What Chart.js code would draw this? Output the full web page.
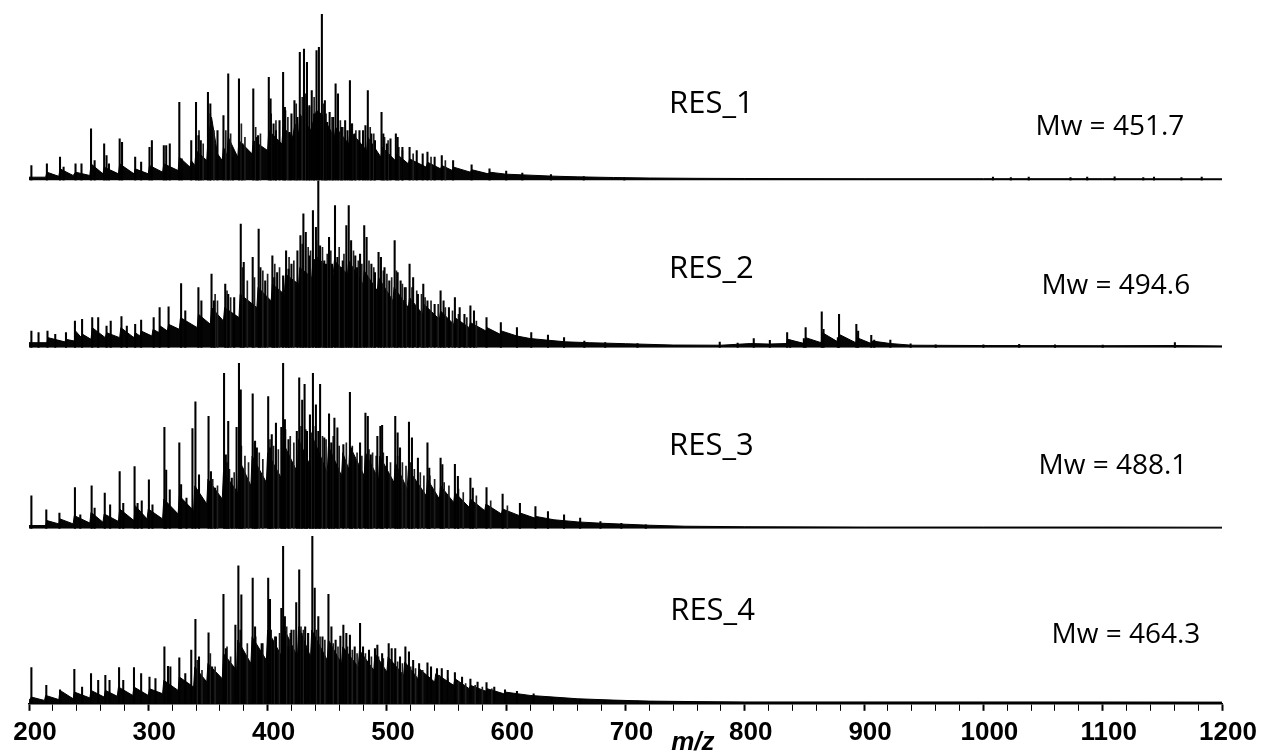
<!DOCTYPE html>
<html><head><meta charset="utf-8">
<script src="https://cdn.jsdelivr.net/npm/chart.js@4.4.0/dist/chart.umd.min.js"></script>
<style>html,body{margin:0;padding:0;background:#fff;}#wrap{width:1265px;height:751px;position:relative;}</style>
</head><body><div id="wrap"><canvas id="c"></canvas></div>
<script>
// ---------- axis ticks ----------
const xMajorTicks = [200,300,400,500,600,700,800,900,1000,1100,1200];
const xAllTicks = [200,220,240,260,280,300,320,340,360,380,400,420,440,460,480,500,520,540,560,580,600,620,640,660,680,700,720,740,760,780,800,820,840,860,880,900,920,940,960,980,1000,1020,1040,1060,1080,1100,1120,1140,1160,1180,1200];
const sampleNames = ['RES_1','RES_2','RES_3','RES_4'];
const mwTexts = ['Mw = 451.7','Mw = 494.6','Mw = 488.1','Mw = 464.3'];

// ---------- RES_1 ----------
const res1PeakMz = [202,215,226,229,239,244,252,255,263,265,
267,276,278,289,294,301,303,313,315,318,
326,328,336,340,342,344,350,352,363,367,
371,376,379,388,391,392,401,402.5,405,413,
414.5,418.5,422.5,427,430.5,433,437,441,443,445.5,
448,452,457,459,465,469,470.5,477,482,484,
487,495.5,497,507.5,509,519,534,546,555.5,571,
586,600,613.5,637.5,665,699,1008,1023,1038,1073,
1087,1110,1134,1143,1166,1183,
407,410,420,425,435,439,450,455,462,467,
473,480,490,500,503,513,525,530,540,358];
const res1PeakInt = [9,10,14,8,10,10,31,12,22,15,
10,25,23,14,11,20,24,21,21,22,
47,13,24,47,27,24,53,46,39,64,
14,61,22,55,26,27,62,49,34,65,
44,29,48,77,79,71,54,78,80,100,
48,41,58,52,36,60,34,30,33,54,
28,41,28,28,26,20,17,15,12,9.4,
7,5.6,4.4,3.6,2.4,1.6,2,1.8,2,1.8,
2,2.2,1.8,2,1.8,2,
30,36,40,38,45,40,35,38,32,30,
28,30,24,22,25,20,18,16,14,30];
const res1MinorMz = [342.5,346,352,355,365,369,378,381,390,394,
403,407,415,417,424,429,432,435,439,447,
449,454,461,463,471,474,486,489,498,501,
510,513,522,537,549];
const res1MinorInt = [30,22,40,30,30,28,34,26,32,28,
40,36,42,38,46,50,52,44,50,46,
40,38,36,32,34,30,32,28,26,24,
20,18,16,14,12];
const res1EnvMz = [200,214,215,225,226,237,239,251,252,262,
263,275,276,288,289,300,301,312,313,325,
326,335,336,339,340,349,350,353,358,362,
363,366,367,375,376,387,388,400,401,412,
413,421,423,426,427,436,441,445,456,457,
468,469,483,484,495,496,507,508,518,519,
533,534,545,546,555,556,570,571,585,586,
600,620,640,660,690,720,760,800,900,1000,
1100,1200];
const res1EnvInt = [2,2,5,2.5,7,3,5,3,10,4,
8,4,10,4,7,4,9,5,10,6,
14,8,12,9,18,12,24,38,16,12,
20,15,26,14,24,16,24,18,30,22,
32,26,34,28,40,30,42,40,26,32,
22,30,18,26,14,20,12,16,10,13,
8,11,7,9,6,8,5,6.5,4,5,
3.8,3.2,2.6,2.2,1.8,1.5,1.3,1.2,1.1,1.1,
1.1,1];

// ---------- RES_2 ----------
const res2PeakMz = [202,208,215.5,222,231,238.5,244.5,253,258,265,
268.5,277.5,282,289,294,304.5,309.5,317,327.5,331,
342,344.5,353,355,364.5,367,377.5,380,387.5,392.5,
394,404,405.5,413,415.5,417.5,425,427.5,430,432,
438,440.5,442.5,444,447.5,451.5,454,456.5,458.5,461.5,
466,468,470,473.5,477.5,481,483,487,493,495,
498,506.5,509,511.5,519,522,530.5,534,545,547.5,
557,561,570,573,583.5,595.5,609,621,635,648.5,
665.5,683,710,779,794,807.5,821,835.5,838,849.5,
851,864.5,866,878,879,893.5,895,906,908.5,922,
939,1160.5,960,1000,1030,1060,1100,
372,398,408,420,435,449,463,475,490,502,
515,526,540,552,565];
const res2PeakInt = [10,9,10,8,9,16,17,18,18,13,
16,18.6,13,14,16.6,18,24,24.4,38.4,22,
36,28,44,28,38,32,74,51,54,71,
48,55,42,43,58,47,58,67,80,69,
82,72,100,61,52,66,50,85,54,48,
73,85,64,55,56,73,66,50,57,54,
48,64,45,40,50,42,38,28,34,28,
30,24,25,22,18,15,12,9,7.6,6,
4,3,2.4,3.4,2.8,5.4,4.4,9,4.6,5.4,
12,21.4,11,6,20,14,10,7.4,4.6,4.6,
2.3,3,1.8,1.8,2,1.8,1.6,
30,40,45,50,55,50,52,48,45,40,
36,32,26,24,20];
const res2MinorMz = [356,358,366,369,379,383,389,396,400,406,
410,418,422,429,434,436,441,446,450,453,
460,464,472,476,479,485,489,497,500,504,
508,513,516,521,525,529,532,537,543,549,
555,560,567,575];
const res2MinorInt = [32,28,34,30,48,40,42,46,44,50,
48,54,52,62,60,58,64,60,56,58,
60,56,58,52,50,52,48,46,44,42,
46,38,36,36,34,32,30,28,26,24,
22,20,18,16];
const res2EnvMz = [200,215,216,230,231,238,239,244,245,252,
253,264,265,276,277,288,289,293,294,303,
304,309,310,316,317,326,327,341,342,352,
353,363,364,376,377,391,392,403,404,414,
415,426,427,437,438,442,455,456,467,468,
480,481,492,493,505,506,518,519,530,531,
544,545,556,557,569,570,583,584,595,596,
609,620,635,650,670,700,740,780,805,820,
835,836,850,851,864,865,878,879,893,894,
906,907,922,940,1000,1100,1160,1200];
const res2EnvInt = [3,3,6,3.5,5,4,10,6,8,5,
12,6,9,6,12,6,9,7,10,7,
11,9,13,10,14,11,18,12,20,14,
24,16,24,18,32,24,36,28,38,32,
44,38,48,42,52,54,44,52,44,52,
38,46,34,42,28,36,24,30,20,26,
17,22,14,18,12,15,10,12,8,10,
7,5.5,4.5,3.5,3,2.4,1.6,1.5,2.5,2.2,
2.5,5,2.5,6,3,9,3.5,8,3,6,
2.5,4,2.5,1.5,1.3,1.2,1.3,1.1];

// ---------- RES_3 ----------
const res3PeakMz = [202,214.5,225.5,238.5,243,252.5,255,263.5,268,276,
279,288.5,291,294.5,300.5,303.5,313.5,315,318,326,
327.5,332,337,339.5,342.5,350.5,352.5,356,363.5,365,
367,370,374,376,377.5,379,387.5,389.5,391,400.5,
402,403.5,407,411.5,413,414.5,417.5,424.5,426.5,429,
431,433,435.5,438,440.5,442.5,444,447.5,451.5,453.5,
456,458.5,463.5,469,470.5,473.5,477.5,482,484,486.5,
492,494.5,496,500,507,509,511,518.5,521,526,
534,535.5,545,546.5,557,559.5,570,572,583.5,597,
611.5,624.5,635,648.5,662,679,696.5,717];
const res3PeakInt = [20,11.5,9.5,25,8.5,26,12.5,21.6,14.5,34.7,
15.5,37.6,15.5,17,29.7,14.5,61.4,35.6,23.6,52,
26.7,18.6,60.6,76.8,32.7,68,34.7,24.6,94,44.8,
65,30.7,61.4,100,84,36.8,81.6,53,49,80,
49,57,64,61.4,100,66,54,59,91.3,77.8,
87.3,59,69,94,75,59,87.3,55,69.5,52,
67,61,51,82.6,49,40.8,52,70,68,44.8,
56,62,62.6,43.8,68,58,49,64.6,55,42.8,
52,36.8,42.8,38.8,39,31.7,30.7,24.6,25,21,
15.5,13.5,10.5,8.5,6.5,4.4,3.4,2.4];
const res3MinorMz = [354,358,366,368,372,378,381,384,389,393,
396,402,405,409,415,419,422,428,432,437,
440,446,449,452,455,460,466,471,475,479,
485,488,491,497,503,509,513,516,520,523,
528,531,536,540,548,552,560,564,575,587,
601];
const res3MinorInt = [30,26,40,36,34,50,44,40,52,46,
42,54,50,48,60,56,52,62,60,58,
62,56,54,52,56,50,52,50,46,44,
48,46,44,46,40,44,40,38,40,36,
34,32,32,30,28,26,24,22,20,17,
14];
const res3EnvMz = [200,214,215,225,226,237,238,251,252,262,
263,275,276,288,289,299,300,312,313,325,
326,338,339,349,350,362,363,375,376,386,
387,399,400,412,413,425,426,437,438,450,
451,462,463,468,469,481,482,493,494,506,
507,517,518,533,534,544,545,556,557,569,
570,582,583,596,597,611,612,624,625,640,
660,680,700,720,750,800,900,1000,1100,1200];
const res3EnvInt = [2,2,5,3,6,3,8,3.5,10,4,
9,4.5,12,5,14,6,12,6,18,9,
20,11,26,15,30,18,34,22,42,26,
44,28,46,30,52,34,54,36,55,34,
50,32,46,36,50,32,46,30,44,28,
40,24,36,20,30,18,26,16,22,13,
18,11,15,9,12,8,9.5,6.5,7.5,5.5,
4.2,3.4,2.8,2.2,1.6,1.3,1.1,1.1,1.1,1];

// ---------- RES_4 ----------
const res4PeakMz = [202,214.5,226,238,244.5,252,258,264,267.5,275.5,
279,288,294,301,306,313.5,316.5,318.5,326,331,
336,339.5,342.5,350.5,353.5,363,365,373,375.5,378,
380,387.5,389.5,393,400.5,402,404,411.5,413,414.5,
417.5,424,426.5,428.5,431.5,437.5,439.5,442.5,451,453.5,
461,463.5,466,469,477.5,480,485,490,492,501.5,
504,507,515.5,518.5,527,534,542,546,557,570,
583.5,599,609,623,638,662,683,710,
395,407,420,434,446,457,473,496,511,522,
537,551,563,576,590];
const res4PeakInt = [21.6,11,8.4,20.6,10,18,14,17,14,21.6,
14,21.6,18,16,15,34,22.4,22,27.4,18,
32,50.4,28,42.4,22,65.4,33,47,82.4,65,
30,75,46,30,75,62.4,38,57,94,52,
34,60.4,80,42,46,100,69,52,65.4,46,
40.4,47,42,41,48,34,32,33,35,36,
33,33,34,31,24,24.4,21,21,18.6,14.8,
12.6,8.4,7.4,6,3.6,2.4,2,1.6,
36,40,44,42,40,38,34,30,28,26,
22,20,16,13,10];
const res4MinorMz = [341,345,352,356,366,369,377,383,390,396,
403,406,410,416,419,422,428,430,434,441,
444,448,455,459,467,471,475,482,487,493,
497,503,509,513,520,524,530,537,544,551,
560,566,574,580,588];
const res4MinorInt = [26,20,30,22,34,28,44,36,40,36,
44,40,42,46,42,44,46,44,42,44,
40,38,36,34,34,32,30,30,28,28,
27,26,25,24,22,21,20,18,17,15,
13,12,11,10,9];
const res4EnvMz = [200,202,213,214,225,226,237,238,251,252,
263,264,274,275,287,288,300,301,312,313,
325,326,338,339,349,350,362,363,374,375,
386,387,399,400,412,413,425,426,436,437,
450,451,462,463,476,477,489,490,500,501,
514,515,526,527,540,541,556,557,569,570,
583,584,598,599,620,640,660,690,720,760,
800,900,1000,1100,1200];
const res4EnvInt = [2,4,2,5,2.5,8,3,7,3.5,8,
4,8,4.5,10,5,10,5,9,6,14,
8,16,10,22,13,24,15,30,20,38,
24,40,26,44,28,46,28,46,28,44,
26,38,24,34,22,32,20,30,19,28,
17,25,15,21,13,18,11,15,9,11,
7.5,9,6,7,5,4,3,2.2,1.6,1.3,
1.1,1.1,1.1,1.1,1];

// ---------- layout (not data) ----------
const panelWeights = [166, 166.7, 180.6, 174.4];
const panelMax = [100, 100, 109.5, 104.4];
const nameLabelMz = [772, 772, 772, 773];
const nameLabelLevel = [46, 47, 50, 55];
const mwLabelMz = [1106, 1111, 1108.6, 1119.5];
const mwLabelLevel = [32, 37, 37.8, 41];
const axisTitleMz = 756.5;

const panels = [
  {pm: res1PeakMz, pi: res1PeakInt, nm: res1MinorMz, ni: res1MinorInt, em: res1EnvMz, ei: res1EnvInt},
  {pm: res2PeakMz, pi: res2PeakInt, nm: res2MinorMz, ni: res2MinorInt, em: res2EnvMz, ei: res2EnvInt},
  {pm: res3PeakMz, pi: res3PeakInt, nm: res3MinorMz, ni: res3MinorInt, em: res3EnvMz, ei: res3EnvInt},
  {pm: res4PeakMz, pi: res4PeakInt, nm: res4MinorMz, ni: res4MinorInt, em: res4EnvMz, ei: res4EnvInt}
];
function pts(m, v){ return m.map((x,i)=>({x:x, y:v[i]})); }

const datasets = [];
const scales = {
  x: {
    type: 'linear', position: 'bottom', min: 200, max: 1200, offset: false,
    afterBuildTicks: s => { s.ticks = xAllTicks.map(v => ({value: v})); },
    ticks: {
      autoSkip: false, maxRotation: 0, minRotation: 0, color: '#000', padding: 6, labelOffset: 6,
      font: {family: '"Liberation Sans", Arial, sans-serif', size: 26, weight: 'bold'},
      callback: v => xMajorTicks.includes(v) ? String(v) : ''
    },
    grid: {drawOnChartArea: false, drawTicks: true, tickLength: 7, color: '#000', tickColor: '#000',
      tickWidth: c => (c.tick && xMajorTicks.includes(c.tick.value)) ? 2 : 1, offset: false},
    border: {display: true, color: '#000', width: 1.5}
  }
};
panels.forEach((p, k) => {
  const id = 'y' + (k + 1);
  scales[id] = {type: 'linear', position: 'right', stack: 'spec', stackWeight: panelWeights[k],
    min: 0, max: panelMax[k], display: false, offset: false};
  datasets.push({type: 'line', data: pts(p.em, p.ei), xAxisID: 'x', yAxisID: id,
    borderColor: '#000', borderWidth: 1, backgroundColor: '#050505', fill: 'origin',
    pointRadius: 0, tension: 0, order: 3});
  datasets.push({type: 'bar', data: pts(p.nm, p.ni), xAxisID: 'x', yAxisID: id,
    backgroundColor: '#1e1e1e', borderWidth: 0, barThickness: 1, grouped: false, order: 2});
  datasets.push({type: 'bar', data: pts(p.pm, p.pi), xAxisID: 'x', yAxisID: id,
    backgroundColor: '#000', borderWidth: 0, barThickness: 1.4, grouped: false, order: 1});
});

const textPlugin = {
  id: 'specText',
  afterDraw(chart) {
    const ctx = chart.ctx, xs = chart.scales.x;
    ctx.save();
    ctx.fillStyle = '#000';
    ctx.textAlign = 'center';
    ctx.textBaseline = 'middle';
    for (let k = 0; k < 4; k++) {
      const ys = chart.scales['y' + (k + 1)];
      ctx.font = '31px "Open Sans", "Noto Sans", sans-serif';
      ctx.fillText(sampleNames[k], xs.getPixelForValue(nameLabelMz[k]), ys.getPixelForValue(nameLabelLevel[k]));
      ctx.font = '28px "Open Sans", "Noto Sans", sans-serif';
      ctx.fillText(mwTexts[k], xs.getPixelForValue(mwLabelMz[k]), ys.getPixelForValue(mwLabelLevel[k]));
    }
    ctx.font = 'italic bold 26px "Liberation Sans", Arial, sans-serif';
    ctx.textBaseline = 'alphabetic';
    ctx.fillText('m/z', xs.getPixelForValue(axisTitleMz), 750);
    ctx.restore();
  }
};

new Chart(document.getElementById('c'), {
  type: 'bar',
  data: {datasets: datasets},
  options: {
    responsive: true, maintainAspectRatio: false, animation: false,
    layout: {padding: {left: 29, right: 43, top: 14, bottom: -3}},
    plugins: {legend: {display: false}, tooltip: {enabled: false}, title: {display: false}},
    scales: scales
  },
  plugins: [textPlugin]
});
</script></body></html>
